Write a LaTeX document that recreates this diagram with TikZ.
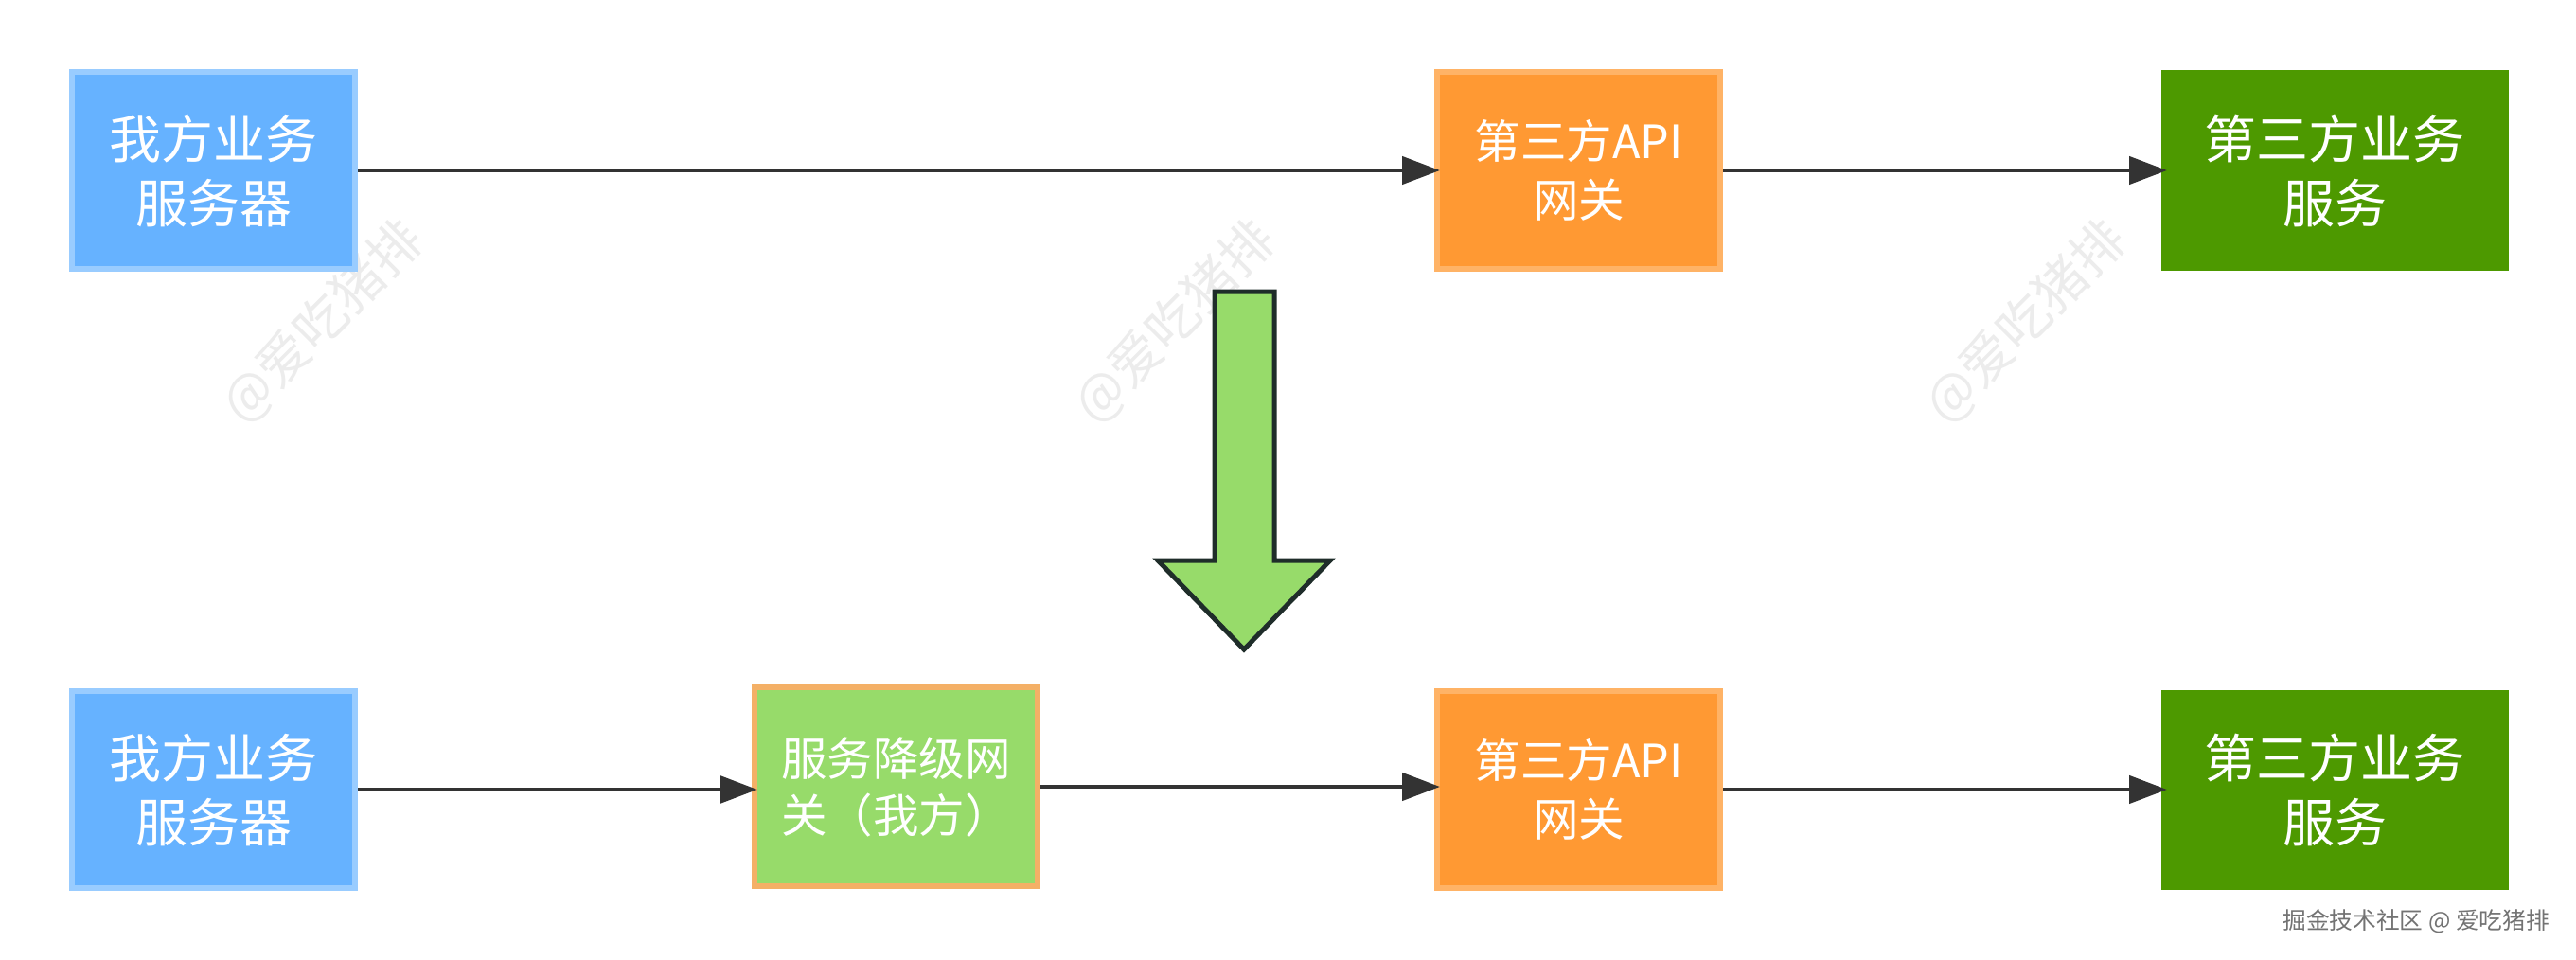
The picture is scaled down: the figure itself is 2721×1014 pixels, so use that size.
\documentclass[tikz,border=0pt]{standalone}
\usepackage{fontspec}
\setmainfont{Noto Sans CJK SC}
\usetikzlibrary{arrows.meta}
\definecolor{bluefill}{HTML}{66B2FF}
\definecolor{blueline}{HTML}{99CCFF}
\definecolor{orangefill}{HTML}{FF9933}
\definecolor{orangeline}{HTML}{FFB366}
\definecolor{leaf}{HTML}{4D9900}
\definecolor{lime}{HTML}{97DB6A}
\definecolor{ink}{HTML}{333333}
\definecolor{arrowline}{HTML}{1F2D2A}
\definecolor{mark}{HTML}{ECECEC}
\definecolor{degradeline}{HTML}{F4B066}
\tikzset{
  x=1pt,y=-1pt,
  box/.style={rectangle,line width=6pt,align=center,text=white,inner sep=0pt,
    minimum width=299pt,minimum height=208pt},
  us/.style={box,draw=blueline,fill=bluefill,font=\fontsize{55pt}{68pt}\selectfont},
  api/.style={box,draw=orangeline,fill=orangefill,font=\fontsize{48.5pt}{62pt}\selectfont},
  biz/.style={box,draw=leaf,fill=leaf,line width=0pt,minimum width=366pt,minimum height=210pt,font=\fontsize{55pt}{68pt}\selectfont},
  degrade/.style={box,draw=degradeline,fill=lime,minimum height=210pt,font=\fontsize{48.5pt}{60pt}\selectfont},
  conn/.style={ink,line width=4.5pt,-{Triangle[length=40pt,width=29pt]},shorten >=-6pt},
  wmark/.style={text=mark,rotate=45,font=\fontsize{55pt}{55pt}\selectfont},
}
\begin{document}
\begin{tikzpicture}
\useasboundingbox (0,0) rectangle (2721,1014);
\fill[white] (0,0) rectangle (2721,1014);
\node[wmark] (w1) at (341,340) {@爱吃猪排};
\node[wmark] (w2) at (1241,340) {@爱吃猪排};
\node[wmark] (w3) at (2140,340) {@爱吃猪排};
\node[us] (a1) at (225.5,180) {我方业务\\服务器};
\node[api] (b1) at (1667.5,180) {第三方API\\网关};
\node[biz] (c1) at (2466,180) {第三方业务\\服务};
\draw[conn] (a1.east) -- (b1.west);
\draw[conn] (b1.east) -- (c1.west);
\draw[line width=5pt,draw=arrowline,fill=lime,miter limit=10]
  (1283,308) -- (1346,308) -- (1346,592) -- (1405,592) -- (1314,686) -- (1223,592) -- (1283,592) -- cycle;
\node[us] (a2) at (225.5,834) {我方业务\\服务器};
\node[degrade] (g2) at (946.5,831) {服务降级网\\关（我方）};
\node[api] (b2) at (1667.5,834) {第三方API\\网关};
\node[biz] (c2) at (2466,834) {第三方业务\\服务};
\draw[conn] (a2.east) -- (g2.west |- a2.east);
\draw[conn] (g2.east) -- (b2.west |- g2.east);
\draw[conn] (b2.east) -- (c2.west);
\node[text=black!55,inner sep=0pt,font=\fontsize{24.7pt}{25pt}\selectfont,anchor=east] (credit) at (2693,973) {掘金技术社区 @ 爱吃猪排};
\end{tikzpicture}
\end{document}
